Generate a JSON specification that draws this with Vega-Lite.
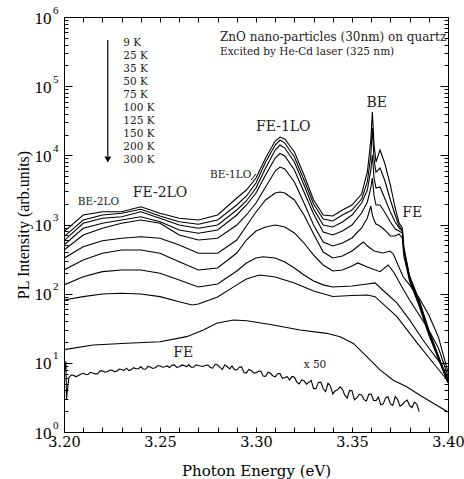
{
"$schema":"https://vega.github.io/schema/vega-lite/v6.json",
"width":384,"height":415,
"autosize":{"type":"none"},
"padding":{"left":64,"top":17,"right":16,"bottom":47},
"background":"white",
"config":{"view":{"stroke":null},"axis":{"grid":false,"domainColor":"black","tickColor":"black","labelColor":"black","titleColor":"black","labelFont":"DejaVu Serif","titleFont":"DejaVu Serif","titleFontWeight":"normal","domainWidth":1,"tickWidth":1}},
"datasets":{
"frame":[{"x":3.2,"y":1},{"x":3.4,"y":1000000}],
"curves":[
{"s":"9K","x":3.2,"y":787},{"s":"9K","x":3.21,"y":1372},{"s":"9K","x":3.22,"y":1531},{"s":"9K","x":3.23,"y":1531},{"s":"9K","x":3.24,"y":1808},{"s":"9K","x":3.25,"y":1452},{"s":"9K","x":3.26,"y":1229},{"s":"9K","x":3.27,"y":1162},{"s":"9K","x":3.28,"y":1372},{"s":"9K","x":3.29,"y":2416},{"s":"9K","x":3.295,"y":3153},{"s":"9K","x":3.3,"y":4702},{"s":"9K","x":3.305,"y":9140},{"s":"9K","x":3.31,"y":16090},{"s":"9K","x":3.3125,"y":18390},{"s":"9K","x":3.315,"y":17210},{"s":"9K","x":3.32,"y":11160},{"s":"9K","x":3.325,"y":5190},{"s":"9K","x":3.33,"y":2261},{"s":"9K","x":3.335,"y":1372},{"s":"9K","x":3.34,"y":1327},{"s":"9K","x":3.345,"y":1620},{"s":"9K","x":3.35,"y":1914},{"s":"9K","x":3.355,"y":2761},{"s":"9K","x":3.358,"y":5741},{"s":"9K","x":3.3598,"y":16640},{"s":"9K","x":3.3606,"y":42270},{"s":"9K","x":3.3615,"y":14090},{"s":"9K","x":3.3625,"y":8000},{"s":"9K","x":3.3646,"y":11930},{"s":"9K","x":3.367,"y":7740},{"s":"9K","x":3.37,"y":3720},{"s":"9K","x":3.3725,"y":1732},{"s":"9K","x":3.3745,"y":1051},{"s":"9K","x":3.3762,"y":890},{"s":"9K","x":3.377,"y":473},{"s":"9K","x":3.38,"y":180},{"s":"9K","x":3.385,"y":81.1},{"s":"9K","x":3.39,"y":29.9},{"s":"9K","x":3.395,"y":12.6},{"s":"9K","x":3.4,"y":5.64},
{"s":"25K","x":3.2,"y":666},{"s":"25K","x":3.21,"y":1162},{"s":"25K","x":3.22,"y":1372},{"s":"25K","x":3.23,"y":1452},{"s":"25K","x":3.24,"y":1659},{"s":"25K","x":3.25,"y":1327},{"s":"25K","x":3.26,"y":1098},{"s":"25K","x":3.27,"y":1007},{"s":"25K","x":3.28,"y":1162},{"s":"25K","x":3.29,"y":1914},{"s":"25K","x":3.295,"y":2583},{"s":"25K","x":3.3,"y":3981},{"s":"25K","x":3.305,"y":8000},{"s":"25K","x":3.31,"y":14090},{"s":"25K","x":3.3125,"y":16640},{"s":"25K","x":3.315,"y":15060},{"s":"25K","x":3.32,"y":9450},{"s":"25K","x":3.325,"y":4395},{"s":"25K","x":3.33,"y":1979},{"s":"25K","x":3.335,"y":1201},{"s":"25K","x":3.34,"y":1124},{"s":"25K","x":3.345,"y":1372},{"s":"25K","x":3.35,"y":1620},{"s":"25K","x":3.355,"y":2337},{"s":"25K","x":3.358,"y":4116},{"s":"25K","x":3.3598,"y":10100},{"s":"25K","x":3.3606,"y":24810},{"s":"25K","x":3.3615,"y":8550},{"s":"25K","x":3.3625,"y":5735},{"s":"25K","x":3.3646,"y":6550},{"s":"25K","x":3.367,"y":4395},{"s":"25K","x":3.37,"y":2261},{"s":"25K","x":3.3725,"y":1372},{"s":"25K","x":3.3745,"y":951},{"s":"25K","x":3.3762,"y":833},{"s":"25K","x":3.377,"y":442},{"s":"25K","x":3.38,"y":174},{"s":"25K","x":3.385,"y":75.9},{"s":"25K","x":3.39,"y":28.9},{"s":"25K","x":3.395,"y":12.2},{"s":"25K","x":3.4,"y":5.46},
{"s":"35K","x":3.2,"y":583},{"s":"35K","x":3.21,"y":1041},{"s":"35K","x":3.22,"y":1229},{"s":"35K","x":3.23,"y":1297},{"s":"35K","x":3.24,"y":1531},{"s":"35K","x":3.25,"y":1229},{"s":"35K","x":3.26,"y":983},{"s":"35K","x":3.27,"y":881},{"s":"35K","x":3.28,"y":983},{"s":"35K","x":3.29,"y":1620},{"s":"35K","x":3.295,"y":2186},{"s":"35K","x":3.3,"y":3370},{"s":"35K","x":3.305,"y":6550},{"s":"35K","x":3.31,"y":11930},{"s":"35K","x":3.3125,"y":14090},{"s":"35K","x":3.315,"y":12750},{"s":"35K","x":3.32,"y":8000},{"s":"35K","x":3.325,"y":3720},{"s":"35K","x":3.33,"y":1675},{"s":"35K","x":3.335,"y":983},{"s":"35K","x":3.34,"y":920},{"s":"35K","x":3.345,"y":1087},{"s":"35K","x":3.35,"y":1372},{"s":"35K","x":3.355,"y":2046},{"s":"35K","x":3.358,"y":3153},{"s":"35K","x":3.3598,"y":6130},{"s":"35K","x":3.3606,"y":10100},{"s":"35K","x":3.3615,"y":4702},{"s":"35K","x":3.3625,"y":3370},{"s":"35K","x":3.3646,"y":3485},{"s":"35K","x":3.367,"y":2416},{"s":"35K","x":3.37,"y":1516},{"s":"35K","x":3.3725,"y":1087},{"s":"35K","x":3.3745,"y":890},{"s":"35K","x":3.3762,"y":805},{"s":"35K","x":3.377,"y":428},{"s":"35K","x":3.38,"y":168},{"s":"35K","x":3.385,"y":73.4},{"s":"35K","x":3.39,"y":27.9},{"s":"35K","x":3.395,"y":11.8},{"s":"35K","x":3.4,"y":5.28},
{"s":"50K","x":3.2,"y":505},{"s":"50K","x":3.21,"y":881},{"s":"50K","x":3.22,"y":1041},{"s":"50K","x":3.23,"y":1162},{"s":"50K","x":3.24,"y":1297},{"s":"50K","x":3.25,"y":1098},{"s":"50K","x":3.26,"y":833},{"s":"50K","x":3.27,"y":746},{"s":"50K","x":3.28,"y":833},{"s":"50K","x":3.29,"y":1372},{"s":"50K","x":3.295,"y":1914},{"s":"50K","x":3.3,"y":2853},{"s":"50K","x":3.305,"y":5190},{"s":"50K","x":3.31,"y":9140},{"s":"50K","x":3.3125,"y":10620},{"s":"50K","x":3.315,"y":9770},{"s":"50K","x":3.32,"y":6130},{"s":"50K","x":3.325,"y":2951},{"s":"50K","x":3.33,"y":1418},{"s":"50K","x":3.335,"y":779},{"s":"50K","x":3.34,"y":705},{"s":"50K","x":3.345,"y":805},{"s":"50K","x":3.35,"y":983},{"s":"50K","x":3.355,"y":1466},{"s":"50K","x":3.358,"y":2115},{"s":"50K","x":3.3598,"y":3370},{"s":"50K","x":3.3606,"y":4702},{"s":"50K","x":3.3615,"y":2583},{"s":"50K","x":3.3625,"y":1914},{"s":"50K","x":3.3646,"y":1914},{"s":"50K","x":3.367,"y":1516},{"s":"50K","x":3.37,"y":1087},{"s":"50K","x":3.3725,"y":861},{"s":"50K","x":3.3745,"y":805},{"s":"50K","x":3.3762,"y":754},{"s":"50K","x":3.377,"y":400},{"s":"50K","x":3.38,"y":163},{"s":"50K","x":3.385,"y":71.0},{"s":"50K","x":3.39,"y":27.0},{"s":"50K","x":3.395,"y":11.8},{"s":"50K","x":3.4,"y":5.28},
{"s":"75K","x":3.2,"y":428},{"s":"75K","x":3.21,"y":705},{"s":"75K","x":3.22,"y":881},{"s":"75K","x":3.23,"y":1041},{"s":"75K","x":3.24,"y":1162},{"s":"75K","x":3.25,"y":1041},{"s":"75K","x":3.26,"y":705},{"s":"75K","x":3.27,"y":597},{"s":"75K","x":3.28,"y":632},{"s":"75K","x":3.29,"y":983},{"s":"75K","x":3.295,"y":1372},{"s":"75K","x":3.3,"y":2046},{"s":"75K","x":3.305,"y":3485},{"s":"75K","x":3.31,"y":5930},{"s":"75K","x":3.3125,"y":6770},{"s":"75K","x":3.315,"y":6340},{"s":"75K","x":3.32,"y":4116},{"s":"75K","x":3.325,"y":2046},{"s":"75K","x":3.33,"y":983},{"s":"75K","x":3.335,"y":559},{"s":"75K","x":3.34,"y":489},{"s":"75K","x":3.345,"y":540},{"s":"75K","x":3.35,"y":638},{"s":"75K","x":3.355,"y":890},{"s":"75K","x":3.358,"y":1241},{"s":"75K","x":3.3598,"y":1851},{"s":"75K","x":3.3606,"y":1372},{"s":"75K","x":3.3615,"y":1162},{"s":"75K","x":3.3625,"y":1017},{"s":"75K","x":3.3646,"y":951},{"s":"75K","x":3.367,"y":833},{"s":"75K","x":3.37,"y":682},{"s":"75K","x":3.3725,"y":682},{"s":"75K","x":3.3745,"y":729},{"s":"75K","x":3.3762,"y":638},{"s":"75K","x":3.377,"y":350},{"s":"75K","x":3.38,"y":152},{"s":"75K","x":3.385,"y":66.4},{"s":"75K","x":3.39,"y":25.3},{"s":"75K","x":3.395,"y":11.4},{"s":"75K","x":3.4,"y":5.1},
{"s":"100K","x":3.2,"y":325},{"s":"100K","x":3.21,"y":478},{"s":"100K","x":3.22,"y":583},{"s":"100K","x":3.23,"y":632},{"s":"100K","x":3.24,"y":666},{"s":"100K","x":3.25,"y":632},{"s":"100K","x":3.26,"y":505},{"s":"100K","x":3.27,"y":384},{"s":"100K","x":3.28,"y":384},{"s":"100K","x":3.29,"y":597},{"s":"100K","x":3.295,"y":951},{"s":"100K","x":3.3,"y":1516},{"s":"100K","x":3.305,"y":2261},{"s":"100K","x":3.31,"y":2853},{"s":"100K","x":3.3125,"y":2951},{"s":"100K","x":3.315,"y":2853},{"s":"100K","x":3.32,"y":2261},{"s":"100K","x":3.325,"y":1372},{"s":"100K","x":3.33,"y":729},{"s":"100K","x":3.335,"y":400},{"s":"100K","x":3.34,"y":328},{"s":"100K","x":3.345,"y":350},{"s":"100K","x":3.35,"y":414},{"s":"100K","x":3.3559,"y":559},{"s":"100K","x":3.358,"y":489},{"s":"100K","x":3.3615,"y":414},{"s":"100K","x":3.366,"y":387},{"s":"100K","x":3.3698,"y":414},{"s":"100K","x":3.3715,"y":375},{"s":"100K","x":3.3767,"y":174},{"s":"100K","x":3.38,"y":134},{"s":"100K","x":3.385,"y":86.7},{"s":"100K","x":3.39,"y":49.2},{"s":"100K","x":3.395,"y":23.7},{"s":"100K","x":3.4,"y":7.36},
{"s":"125K","x":3.2,"y":220},{"s":"125K","x":3.21,"y":307},{"s":"125K","x":3.22,"y":384},{"s":"125K","x":3.23,"y":428},{"s":"125K","x":3.24,"y":428},{"s":"125K","x":3.25,"y":384},{"s":"125K","x":3.26,"y":290},{"s":"125K","x":3.27,"y":220},{"s":"125K","x":3.28,"y":235},{"s":"125K","x":3.29,"y":387},{"s":"125K","x":3.295,"y":597},{"s":"125K","x":3.3,"y":805},{"s":"125K","x":3.305,"y":920},{"s":"125K","x":3.31,"y":983},{"s":"125K","x":3.315,"y":920},{"s":"125K","x":3.32,"y":754},{"s":"125K","x":3.325,"y":540},{"s":"125K","x":3.33,"y":362},{"s":"125K","x":3.335,"y":260},{"s":"125K","x":3.34,"y":213},{"s":"125K","x":3.345,"y":220},{"s":"125K","x":3.35,"y":251},{"s":"125K","x":3.353,"y":278},{"s":"125K","x":3.358,"y":243},{"s":"125K","x":3.3646,"y":208},{"s":"125K","x":3.3688,"y":260},{"s":"125K","x":3.372,"y":199},{"s":"125K","x":3.376,"y":125},{"s":"125K","x":3.38,"y":81.1},{"s":"125K","x":3.385,"y":49.2},{"s":"125K","x":3.39,"y":29.9},{"s":"125K","x":3.395,"y":16.4},{"s":"125K","x":3.4,"y":6.44},
{"s":"150K","x":3.2,"y":134},{"s":"150K","x":3.21,"y":176},{"s":"150K","x":3.22,"y":208},{"s":"150K","x":3.23,"y":220},{"s":"150K","x":3.24,"y":220},{"s":"150K","x":3.25,"y":197},{"s":"150K","x":3.26,"y":158},{"s":"150K","x":3.27,"y":125},{"s":"150K","x":3.28,"y":138},{"s":"150K","x":3.29,"y":213},{"s":"150K","x":3.295,"y":278},{"s":"150K","x":3.3,"y":328},{"s":"150K","x":3.3036,"y":342},{"s":"150K","x":3.31,"y":328},{"s":"150K","x":3.315,"y":287},{"s":"150K","x":3.32,"y":235},{"s":"150K","x":3.325,"y":186},{"s":"150K","x":3.33,"y":152},{"s":"150K","x":3.335,"y":134},{"s":"150K","x":3.34,"y":125},{"s":"150K","x":3.35,"y":129},{"s":"150K","x":3.358,"y":138},{"s":"150K","x":3.362,"y":143},{"s":"150K","x":3.366,"y":113},{"s":"150K","x":3.3734,"y":73.4},{"s":"150K","x":3.38,"y":41.7},{"s":"150K","x":3.387,"y":21.4},{"s":"150K","x":3.39,"y":16.4},{"s":"150K","x":3.396,"y":9.93},{"s":"150K","x":3.4,"y":6.03},
{"s":"200K","x":3.2,"y":81.1},{"s":"200K","x":3.21,"y":90.5},{"s":"200K","x":3.22,"y":99},{"s":"200K","x":3.23,"y":101.3},{"s":"200K","x":3.24,"y":99},{"s":"200K","x":3.25,"y":90.5},{"s":"200K","x":3.26,"y":76.6},{"s":"200K","x":3.2667,"y":68.7},{"s":"200K","x":3.27,"y":71.0},{"s":"200K","x":3.28,"y":89.6},{"s":"200K","x":3.29,"y":134},{"s":"200K","x":3.295,"y":163},{"s":"200K","x":3.3,"y":180},{"s":"200K","x":3.302,"y":186},{"s":"200K","x":3.31,"y":174},{"s":"200K","x":3.32,"y":143},{"s":"200K","x":3.33,"y":109},{"s":"200K","x":3.34,"y":91.1},{"s":"200K","x":3.35,"y":94.2},{"s":"200K","x":3.358,"y":95.8},{"s":"200K","x":3.362,"y":90.5},{"s":"200K","x":3.3734,"y":46.5},{"s":"200K","x":3.3839,"y":19.4},{"s":"200K","x":3.394,"y":8.7},{"s":"200K","x":3.4,"y":5.46},
{"s":"300K","x":3.2,"y":15.5},{"s":"300K","x":3.2153,"y":18.1},{"s":"300K","x":3.2327,"y":19.2},{"s":"300K","x":3.25,"y":20.2},{"s":"300K","x":3.2639,"y":23.9},{"s":"300K","x":3.2726,"y":29.8},{"s":"300K","x":3.2795,"y":37.3},{"s":"300K","x":3.2882,"y":41.6},{"s":"300K","x":3.2952,"y":40.6},{"s":"300K","x":3.309,"y":35.2},{"s":"300K","x":3.3229,"y":29.8},{"s":"300K","x":3.3368,"y":26.7},{"s":"300K","x":3.3438,"y":23.9},{"s":"300K","x":3.3507,"y":19.1},{"s":"300K","x":3.3577,"y":12.3},{"s":"300K","x":3.3646,"y":7.9},{"s":"300K","x":3.3715,"y":5.6},{"s":"300K","x":3.3785,"y":4.5},{"s":"300K","x":3.3854,"y":3.4},{"s":"300K","x":3.3923,"y":2.6},{"s":"300K","x":3.4,"y":1.95},
{"s":"x50","x":3.2,"y":6.39},{"s":"x50","x":3.201,"y":10.5},{"s":"x50","x":3.2013,"y":3.0},{"s":"x50","x":3.2025,"y":6.1},{"s":"x50","x":3.20375,"y":6.65},{"s":"x50","x":3.205,"y":6.6},{"s":"x50","x":3.20625,"y":6.28},{"s":"x50","x":3.2075,"y":6.58},{"s":"x50","x":3.20875,"y":6.86},{"s":"x50","x":3.21,"y":7.11},{"s":"x50","x":3.21125,"y":6.77},{"s":"x50","x":3.2125,"y":6.78},{"s":"x50","x":3.21375,"y":7.31},{"s":"x50","x":3.215,"y":7.14},{"s":"x50","x":3.21625,"y":6.92},{"s":"x50","x":3.2175,"y":6.89},{"s":"x50","x":3.21875,"y":7.65},{"s":"x50","x":3.22,"y":7.66},{"s":"x50","x":3.22125,"y":7.33},{"s":"x50","x":3.2225,"y":7.44},{"s":"x50","x":3.22375,"y":7.82},{"s":"x50","x":3.225,"y":7.89},{"s":"x50","x":3.22625,"y":7.46},{"s":"x50","x":3.2275,"y":7.58},{"s":"x50","x":3.22875,"y":8.14},{"s":"x50","x":3.23,"y":8.03},{"s":"x50","x":3.23125,"y":7.8},{"s":"x50","x":3.2325,"y":8.37},{"s":"x50","x":3.23375,"y":7.74},{"s":"x50","x":3.235,"y":7.91},{"s":"x50","x":3.23625,"y":8.49},{"s":"x50","x":3.2375,"y":8.21},{"s":"x50","x":3.23875,"y":8.22},{"s":"x50","x":3.24,"y":8.77},{"s":"x50","x":3.24125,"y":8.15},{"s":"x50","x":3.2425,"y":8.07},{"s":"x50","x":3.24375,"y":8.88},{"s":"x50","x":3.245,"y":8.72},{"s":"x50","x":3.24625,"y":8.3},{"s":"x50","x":3.2475,"y":8.48},{"s":"x50","x":3.24875,"y":9.07},{"s":"x50","x":3.25,"y":9.06},{"s":"x50","x":3.25125,"y":8.65},{"s":"x50","x":3.2525,"y":8.76},{"s":"x50","x":3.25375,"y":9.01},{"s":"x50","x":3.255,"y":8.54},{"s":"x50","x":3.25625,"y":9.19},{"s":"x50","x":3.2575,"y":9.35},{"s":"x50","x":3.25875,"y":8.62},{"s":"x50","x":3.26,"y":8.78},{"s":"x50","x":3.26125,"y":9.25},{"s":"x50","x":3.2625,"y":9.19},{"s":"x50","x":3.26375,"y":8.78},{"s":"x50","x":3.265,"y":9.37},{"s":"x50","x":3.26625,"y":8.66},{"s":"x50","x":3.2675,"y":8.63},{"s":"x50","x":3.26875,"y":9.38},{"s":"x50","x":3.27,"y":9.14},{"s":"x50","x":3.27125,"y":8.98},{"s":"x50","x":3.2725,"y":8.87},{"s":"x50","x":3.27375,"y":9.24},{"s":"x50","x":3.275,"y":9.31},{"s":"x50","x":3.27625,"y":8.57},{"s":"x50","x":3.2775,"y":8.37},{"s":"x50","x":3.27875,"y":9.59},{"s":"x50","x":3.28,"y":9.29},{"s":"x50","x":3.28125,"y":8.59},{"s":"x50","x":3.2825,"y":8.01},{"s":"x50","x":3.28375,"y":9.33},{"s":"x50","x":3.285,"y":8.84},{"s":"x50","x":3.28625,"y":8.16},{"s":"x50","x":3.2875,"y":9.01},{"s":"x50","x":3.28875,"y":7.97},{"s":"x50","x":3.29,"y":7.87},{"s":"x50","x":3.29125,"y":8.66},{"s":"x50","x":3.2925,"y":8.75},{"s":"x50","x":3.29375,"y":7.19},{"s":"x50","x":3.295,"y":7.16},{"s":"x50","x":3.29625,"y":8.01},{"s":"x50","x":3.2975,"y":7.73},{"s":"x50","x":3.29875,"y":7.13},{"s":"x50","x":3.3,"y":7.15},{"s":"x50","x":3.30125,"y":7.52},{"s":"x50","x":3.3025,"y":7.6},{"s":"x50","x":3.30375,"y":6.46},{"s":"x50","x":3.305,"y":6.39},{"s":"x50","x":3.30625,"y":7.31},{"s":"x50","x":3.3075,"y":7.07},{"s":"x50","x":3.30875,"y":6.52},{"s":"x50","x":3.31,"y":6.27},{"s":"x50","x":3.31125,"y":6.97},{"s":"x50","x":3.3125,"y":6.98},{"s":"x50","x":3.31375,"y":5.96},{"s":"x50","x":3.315,"y":6.14},{"s":"x50","x":3.31625,"y":6.32},{"s":"x50","x":3.3175,"y":5.64},{"s":"x50","x":3.31875,"y":6.35},{"s":"x50","x":3.32,"y":6.21},{"s":"x50","x":3.32125,"y":5.27},{"s":"x50","x":3.3225,"y":4.95},{"s":"x50","x":3.32375,"y":5.67},{"s":"x50","x":3.325,"y":5.51},{"s":"x50","x":3.32625,"y":4.92},{"s":"x50","x":3.3275,"y":5.23},{"s":"x50","x":3.32875,"y":5.58},{"s":"x50","x":3.33,"y":4.24},{"s":"x50","x":3.33125,"y":4.24},{"s":"x50","x":3.3325,"y":5.21},{"s":"x50","x":3.33375,"y":5.26},{"s":"x50","x":3.335,"y":4.26},{"s":"x50","x":3.33625,"y":3.84},{"s":"x50","x":3.3375,"y":5.07},{"s":"x50","x":3.33875,"y":4.63},{"s":"x50","x":3.34,"y":3.55},{"s":"x50","x":3.34125,"y":3.94},{"s":"x50","x":3.3425,"y":4.07},{"s":"x50","x":3.34375,"y":4.49},{"s":"x50","x":3.345,"y":4.13},{"s":"x50","x":3.34625,"y":3.41},{"s":"x50","x":3.3475,"y":3.1},{"s":"x50","x":3.34875,"y":4.0},{"s":"x50","x":3.35,"y":3.94},{"s":"x50","x":3.35125,"y":2.93},{"s":"x50","x":3.3525,"y":3.11},{"s":"x50","x":3.35375,"y":3.51},{"s":"x50","x":3.355,"y":3.43},{"s":"x50","x":3.35625,"y":2.94},{"s":"x50","x":3.3575,"y":2.81},{"s":"x50","x":3.35875,"y":3.5},{"s":"x50","x":3.36,"y":3.54},{"s":"x50","x":3.36125,"y":2.86},{"s":"x50","x":3.3625,"y":2.84},{"s":"x50","x":3.36375,"y":3.21},{"s":"x50","x":3.365,"y":2.48},{"s":"x50","x":3.36625,"y":2.55},{"s":"x50","x":3.3675,"y":3.11},{"s":"x50","x":3.36875,"y":3.23},{"s":"x50","x":3.37,"y":2.55},{"s":"x50","x":3.37125,"y":2.42},{"s":"x50","x":3.3725,"y":3.25},{"s":"x50","x":3.37375,"y":2.94},{"s":"x50","x":3.375,"y":2.36},{"s":"x50","x":3.37625,"y":2.5},{"s":"x50","x":3.3775,"y":2.75},{"s":"x50","x":3.37875,"y":2.89},{"s":"x50","x":3.38,"y":2.41},{"s":"x50","x":3.38125,"y":2.26},{"s":"x50","x":3.3825,"y":2.71},{"s":"x50","x":3.38375,"y":2.52},{"s":"x50","x":3.385,"y":1.97}
],
"notesBig":[{"t":"ZnO nano-particles (30nm) on quartz","x":3.28125,"y":518800}],
"notesLeft":[
{"t":"Excited by He-Cd laser (325 nm)","x":3.28125,"y":311900},
{"t":"9 K","x":3.2309,"y":416000},{"t":"25 K","x":3.2309,"y":270200},{"t":"35 K","x":3.2309,"y":175300},{"t":"50 K","x":3.2309,"y":113800},{"t":"75 K","x":3.2309,"y":73800},{"t":"100 K","x":3.2309,"y":47900},{"t":"125 K","x":3.2309,"y":31000},{"t":"150 K","x":3.2309,"y":20150},{"t":"200 K","x":3.2309,"y":13060},{"t":"300 K","x":3.2309,"y":8470}
],
"notesSmall":[{"t":"BE-2LO","x":3.2179,"y":2114},{"t":"BE-1LO","x":3.2868,"y":5199},{"t":"x 50","x":3.3307,"y":9.3}],
"notesLarge":[{"t":"FE-2LO","x":3.25,"y":2825},{"t":"FE-1LO","x":3.3142,"y":25940},{"t":"BE","x":3.3629,"y":56500},{"t":"FE","x":3.3814,"y":1452},{"t":"FE","x":3.2621,"y":13.7}],
"leader":[{"x":3.2974,"x2":3.3,"y":4395,"y2":5370}],
"arrow":[{"x":3.2228,"y":464500,"y2":9770}],
"arrowhead":[{"x":3.2228,"y":8700}]
},
"layer":[
{"data":{"name":"curves"},
 "mark":{"type":"line","color":"black","strokeWidth":1.1,"clip":true},
 "encoding":{
  "x":{"field":"x","type":"quantitative","scale":{"domain":[3.2,3.4],"nice":false,"zero":false},
       "axis":{"orient":"bottom","values":[3.2,3.21,3.22,3.23,3.24,3.25,3.26,3.27,3.28,3.29,3.3,3.31,3.32,3.33,3.34,3.35,3.36,3.37,3.38,3.39,3.4],
               "labelExpr":"(round(datum.value*100) % 5 == 0) ? format(datum.value, '.2f') : ''","labelOverlap":false,"labelFlush":false,
               "tickSize":-5,"labelPadding":8,"labelFontSize":14.5,"title":"Photon Energy (eV)","titleFontSize":15,"titlePadding":15}},
  "y":{"field":"y","type":"quantitative","scale":{"type":"log","domain":[1,1000000],"nice":false},
       "axis":{"orient":"left","values":[1,10,100,1000,10000,100000,1000000],"labels":false,"tickSize":-8,"title":null}},
  "detail":{"field":"s","type":"nominal"}
 }},
{"data":{"name":"frame"},
 "mark":{"type":"point","opacity":0},
 "encoding":{
  "x":{"field":"x","type":"quantitative","axis":{"orient":"top","values":[3.2,3.21,3.22,3.23,3.24,3.25,3.26,3.27,3.28,3.29,3.3,3.31,3.32,3.33,3.34,3.35,3.36,3.37,3.38,3.39,3.4],"labels":false,"tickSize":-5,"title":null}},
  "y":{"field":"y","type":"quantitative","axis":{"orient":"right","values":[1,10,100,1000,10000,100000,1000000],"labels":false,"tickSize":-8,"title":null}}
 }},
{"data":{"name":"frame"},
 "mark":{"type":"point","opacity":0},
 "encoding":{
  "x":{"field":"x","type":"quantitative","axis":null},
  "y":{"field":"y","type":"quantitative","axis":{"orient":"left","values":[2,3,4,5,6,7,8,9,20,30,40,50,60,70,80,90,200,300,400,500,600,700,800,900,2000,3000,4000,5000,6000,7000,8000,9000,20000,30000,40000,50000,60000,70000,80000,90000,200000,300000,400000,500000,600000,700000,800000,900000],"labels":false,"domain":false,"tickSize":-4,"title":null}}
 }},
{"data":{"name":"frame"},
 "mark":{"type":"point","opacity":0},
 "encoding":{
  "x":{"field":"x","type":"quantitative","axis":null},
  "y":{"field":"y","type":"quantitative","axis":{"orient":"right","values":[2,3,4,5,6,7,8,9,20,30,40,50,60,70,80,90,200,300,400,500,600,700,800,900,2000,3000,4000,5000,6000,7000,8000,9000,20000,30000,40000,50000,60000,70000,80000,90000,200000,300000,400000,500000,600000,700000,800000,900000],"labels":false,"domain":false,"tickSize":-4,"title":null}}
 }},
{"data":{"name":"frame"},
 "mark":{"type":"point","opacity":0},
 "encoding":{
  "x":{"field":"x","type":"quantitative","axis":null},
  "y":{"field":"y","type":"quantitative","axis":{"orient":"left","values":[1,10,100,1000,10000,100000,1000000],"labelExpr":"'10'","labelFont":"Liberation Serif","labelFontSize":17,"labelOverlap":false,"labelFlush":false,"labelOffset":1,"ticks":false,"domain":false,"labelPadding":13,"title":"PL Intensity (arb.units)","titleFont":"Liberation Serif","titleFontSize":16,"titlePadding":3}}
 }},
{"data":{"name":"frame"},
 "mark":{"type":"point","opacity":0},
 "encoding":{
  "x":{"field":"x","type":"quantitative","axis":null},
  "y":{"field":"y","type":"quantitative","axis":{"orient":"left","values":[1,10,100,1000,10000,100000,1000000],"labelExpr":"format(round(log(datum.value)/LN10),'d')","labelFont":"Liberation Serif","labelFontSize":11,"labelOverlap":false,"labelFlush":false,"labelOffset":-7,"ticks":false,"domain":false,"labelPadding":6,"title":null}}
 }},
{"data":{"name":"notesBig"},
 "mark":{"type":"text","align":"left","baseline":"middle","font":"DejaVu Serif","fontSize":12,"color":"#222","clip":true},
 "encoding":{"x":{"field":"x","type":"quantitative","axis":null},"y":{"field":"y","type":"quantitative","axis":null},"text":{"field":"t"}}},
{"data":{"name":"notesLeft"},
 "mark":{"type":"text","align":"left","baseline":"middle","font":"DejaVu Serif","fontSize":10.5,"color":"#222","clip":true},
 "encoding":{"x":{"field":"x","type":"quantitative","axis":null},"y":{"field":"y","type":"quantitative","axis":null},"text":{"field":"t"}}},
{"data":{"name":"notesSmall"},
 "mark":{"type":"text","align":"center","baseline":"middle","font":"DejaVu Serif","fontSize":10.5,"color":"#222"},
 "encoding":{"x":{"field":"x","type":"quantitative","axis":null},"y":{"field":"y","type":"quantitative","axis":null},"text":{"field":"t"}}},
{"data":{"name":"notesLarge"},
 "mark":{"type":"text","align":"center","baseline":"middle","font":"DejaVu Serif","fontSize":14,"color":"#222"},
 "encoding":{"x":{"field":"x","type":"quantitative","axis":null},"y":{"field":"y","type":"quantitative","axis":null},"text":{"field":"t"}}},
{"data":{"name":"leader"},
 "mark":{"type":"rule","color":"black","strokeWidth":1},
 "encoding":{"x":{"field":"x","type":"quantitative","axis":null},"x2":{"field":"x2"},"y":{"field":"y","type":"quantitative","axis":null},"y2":{"field":"y2"}}},
{"data":{"name":"arrow"},
 "mark":{"type":"rule","color":"black","strokeWidth":1.2},
 "encoding":{"x":{"field":"x","type":"quantitative","axis":null},"y":{"field":"y","type":"quantitative","axis":null},"y2":{"field":"y2"}}},
{"data":{"name":"arrowhead"},
 "mark":{"type":"point","shape":"triangle-down","filled":true,"color":"black","size":45,"opacity":1},
 "encoding":{"x":{"field":"x","type":"quantitative","axis":null},"y":{"field":"y","type":"quantitative","axis":null}}}
],
"resolve":{"axis":{"x":"independent","y":"independent"}}
}
